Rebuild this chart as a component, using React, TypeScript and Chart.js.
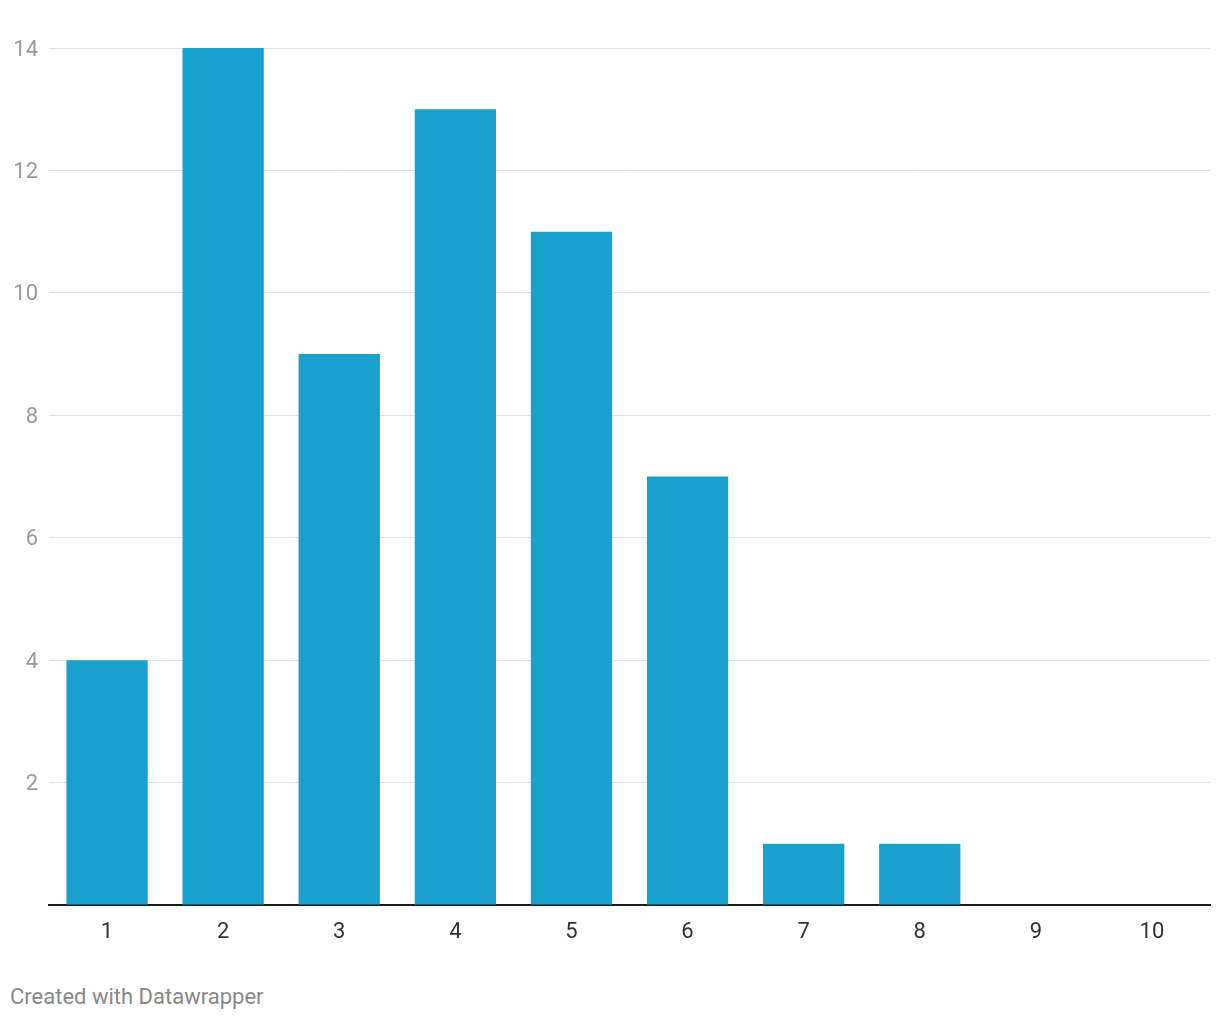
import React, { useEffect, useRef } from "react";
import { Chart, registerables } from "chart.js";

Chart.register(...registerables);

const categories = ["1", "2", "3", "4", "5", "6", "7", "8", "9", "10"];
const values = [4, 14, 9, 13, 11, 7, 1, 1, 0, 0];
const yTicks = [0, 2, 4, 6, 8, 10, 12, 14];
const footerText = "Created with Datawrapper";

export default function App() {
  const ref = useRef<HTMLCanvasElement | null>(null);

  useEffect(() => {
    if (!ref.current) return;
    const chart = new Chart(ref.current, {
      type: "bar",
      data: {
        labels: categories,
        datasets: [
          {
            data: values,
            backgroundColor: "#18a1cd",
            barPercentage: 0.7,
            categoryPercentage: 1,
          },
        ],
      },
      options: {
        animation: false,
        responsive: false,
        maintainAspectRatio: false,
        plugins: { legend: { display: false }, tooltip: { enabled: false } },
        layout: { padding: { top: 48, right: 10, left: 1, bottom: 0 } },
        scales: {
          x: {
            grid: { display: false, drawTicks: false },
            border: { display: true, color: "#1a1a1a", width: 2 },
            ticks: {
              color: "#333333",
              font: { family: "Roboto", size: 22 },
              padding: 14,
              maxRotation: 0,
            },
            afterFit: (s: any) => {
              s.height = 55;
            },
          },
          y: {
            min: 0,
            max: 14,
            afterBuildTicks: (s: any) => {
              s.ticks = yTicks.map((v) => ({ value: v }));
            },
            grid: { color: "#e2e2e2", lineWidth: 1, drawTicks: false },
            border: { display: false },
            ticks: {
              color: "#999999",
              font: { family: "Roboto", size: 22 },
              padding: 11,
              labelOffset: 2,
              callback: (v: any) => (Number(v) === 0 ? "" : String(v)),
            },
            afterFit: (s: any) => {
              s.width = 48;
            },
          },
        },
      },
    });
    return () => chart.destroy();
  }, []);

  return (
    <div
      style={{
        position: "absolute",
        left: 0,
        top: 0,
        width: 1220,
        height: 1020,
        background: "#ffffff",
      }}
    >
      <canvas ref={ref} width={1220} height={960} style={{ display: "block" }} />
      <div
        style={{
          position: "absolute",
          left: 10,
          top: 983,
          fontFamily: "Roboto",
          fontSize: 22,
          color: "#888888",
          lineHeight: "28px",
        }}
      >
        {footerText}
      </div>
    </div>
  );
}
